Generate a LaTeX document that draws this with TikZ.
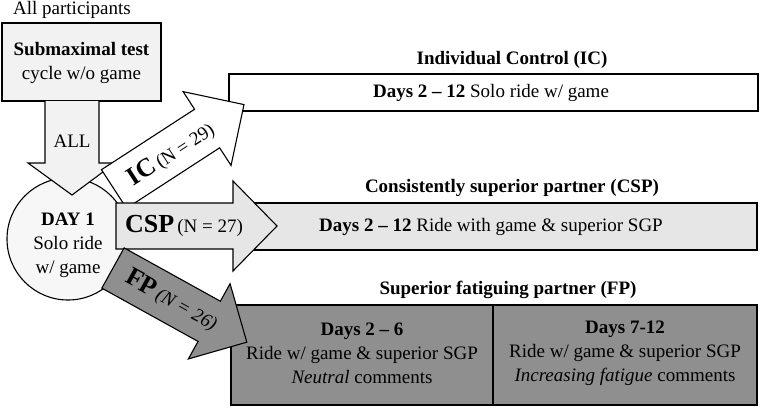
\documentclass[tikz,border=0pt]{standalone}
\usepackage{fontspec}
\setmainfont{Liberation Serif}
\definecolor{subfill}{HTML}{F2F2F2}
\definecolor{circfill}{HTML}{F7F7F7}
\definecolor{cspfill}{HTML}{E6E6E6}
\definecolor{fpfill}{HTML}{8F8F8F}
\begin{document}
\begin{tikzpicture}[x=1pt,y=-1pt,
  font=\fontsize{19}{24}\selectfont,
  line width=1.1pt,
  boxst/.style={draw, rectangle, inner sep=0pt},
  txt/.style={inner sep=0pt, align=center}]
\useasboundingbox (0,0) rectangle (760,407);

% ---- result boxes
\node[boxst, fill=white, minimum width=529pt, minimum height=37pt] (icbox) at (493.5,92.5) {};
\node[txt] (ictext) at (491,92.5) {\textbf{Days 2 – 12} Solo ride w/ game};
\node[txt] (ictitle) at (512,60) {\textbf{Individual Control (IC)}};

\node[boxst, fill=cspfill, minimum width=507pt, minimum height=47pt] (cspbox) at (503.5,226.5) {};
\node[txt] (csptext) at (491,226.5) {\textbf{Days 2 – 12} Ride with game \& superior SGP};
\node[txt] (csptitle) at (512,188) {\textbf{Consistently superior partner (CSP)}};

\node[boxst, fill=fpfill, minimum width=262pt, minimum height=100pt] (fpa) at (362,355) {};
\node[boxst, fill=fpfill, minimum width=264pt, minimum height=100pt] (fpb) at (625,355) {};
\node[txt] (fpatext) at (362,353) {\textbf{Days 2 – 6}\\Ride w/ game \& superior SGP\\\textit{Neutral} comments};
\node[txt] (fpbtext) at (625,353) {\textbf{Days 7-12}\\Ride w/ game \& superior SGP\\\textit{Increasing fatigue} comments};
\node[txt] (fptitle) at (508,290) {\textbf{Superior fatiguing partner (FP)}};

% ---- start
\node[txt] (all) at (72,10) {All participants};
\node[boxst, fill=subfill, minimum width=159pt, minimum height=78pt] (sub) at (81.5,62) {};
\node[txt] (subtext) at (81.5,63) {\textbf{Submaximal test}\\cycle w/o game};

\node[draw, circle, fill=circfill, minimum size=122pt, inner sep=0pt] (day) at (68,239) {};
\node[txt] (daytext) at (68,245) {\textbf{DAY 1}\\Solo ride\\w/ game};

% ---- down arrow
\fill[subfill] (45,101) -- (99,101) -- (99,163) -- (115,163) -- (72,195) -- (28,163) -- (45,163) -- cycle;
\draw[line join=miter] (45,101) -- (45,163) -- (28,163) -- (72,195) -- (115,163) -- (99,163) -- (99,101);
\node[txt] (alllbl) at (72,141) {ALL};

% ---- block arrows
\begin{scope}[shift={(114,189)}, rotate=33]
  \draw[fill=white, line join=miter] (0,-23) -- (111,-23) -- (111,-44) -- (155,0) -- (111,44) -- (111,23) -- (0,23) -- cycle;
  \node[txt, rotate=33] (iclbl) at (67,2) {\textbf{\fontsize{26}{26}\selectfont IC}\,{\fontsize{19}{19}\selectfont(N = 29)}};
\end{scope}
\begin{scope}[shift={(116,226)}]
  \draw[fill=cspfill, line join=miter] (0,-23) -- (117,-23) -- (117,-45) -- (161,0) -- (117,45) -- (117,23) -- (0,23) -- cycle;
  \node[txt] (csplbl) at (68,0) {\textbf{\fontsize{26}{26}\selectfont CSP}\,{\fontsize{19}{19}\selectfont(N = 27)}};
\end{scope}
\begin{scope}[shift={(113,268)}, rotate=-29]
  \draw[fill=fpfill, line join=miter] (0,-23) -- (110,-23) -- (110,-43) -- (153,0) -- (110,43) -- (110,23) -- (0,23) -- cycle;
  \node[txt, rotate=-29] (fplbl) at (67,0) {\textbf{\fontsize{26}{26}\selectfont FP}\,{\fontsize{19}{19}\selectfont\itshape(N = 26)}};
\end{scope}
\end{tikzpicture}
\end{document}
